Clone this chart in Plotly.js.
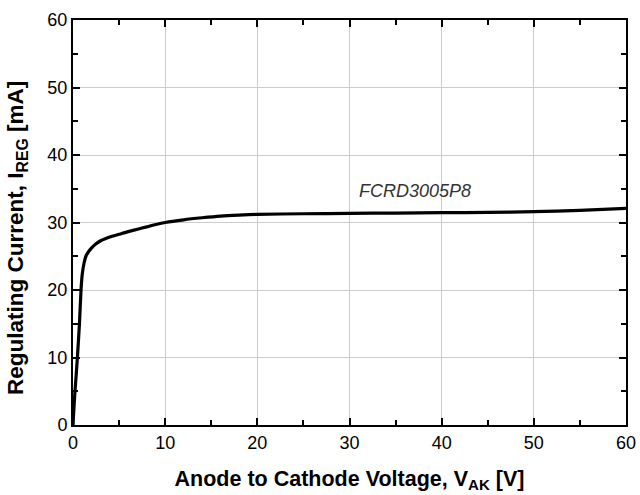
<!DOCTYPE html>
<html>
<head>
<meta charset="utf-8">
<script src="https://cdn.plot.ly/plotly-3.0.1.min.js"></script>
<style>html,body{margin:0;padding:0;background:#fff;}#chart{width:640px;height:495px;}</style>
</head>
<body>
<div id="chart"></div>
<script>
// Anode-to-cathode voltage [V]
var voltage = [0, 0.1, 0.2, 0.35, 0.5, 0.7, 0.87, 1.0, 1.2, 1.4, 1.7, 2.0, 2.5, 3, 3.5, 4, 5, 6, 7, 8, 9, 10, 12, 14, 16, 18, 20, 25, 30, 35, 40, 45, 50, 55, 60];
// Regulating current [mA]
var current = [0, 2.5, 4.7, 7.5, 10.5, 15, 20, 22.3, 24.0, 25.0, 25.7, 26.2, 26.85, 27.3, 27.6, 27.85, 28.25, 28.65, 29.0, 29.35, 29.7, 30.0, 30.4, 30.7, 30.95, 31.1, 31.2, 31.3, 31.35, 31.4, 31.45, 31.5, 31.6, 31.8, 32.1];
var xTicks = [0, 10, 20, 30, 40, 50, 60];
var yTicks = [0, 10, 20, 30, 40, 50, 60];
var seriesLabel = "FCRD3005P8";
var labelPos = {x: 30.8, y: 34.6};

var font = "Arial, 'Liberation Sans', Helvetica, sans-serif";

var axisCommon = {
  showline: true, linecolor: "#000", linewidth: 2, mirror: "ticks",
  ticks: "inside", ticklen: 7, tickwidth: 2, tickcolor: "#000",
  showgrid: true, gridcolor: "#cccccc", gridwidth: 1,
  zeroline: false,
  tickfont: {family: font, size: 18, color: "#000"},
  minor: {ticks: "inside", ticklen: 5, tickwidth: 2, tickcolor: "#000", dtick: 5, showgrid: false}
};

var layout = {
  width: 640, height: 495,
  margin: {l: 73, r: 14, t: 20, b: 70},
  paper_bgcolor: "#fff", plot_bgcolor: "#fff",
  showlegend: false,
  font: {family: font},
  xaxis: Object.assign({}, axisCommon, {
    range: [0, 60], tickvals: xTicks, ticktext: xTicks.map(String),
    title: {text: "<b>Anode to Cathode Voltage, V<sub>AK</sub> [V]</b>", font: {family: font, size: 21.5, color: "#000"}, standoff: 19}
  }),
  yaxis: Object.assign({}, axisCommon, {
    range: [0, 60], tickvals: yTicks, ticktext: yTicks.map(String)
  }),
  annotations: [{
    x: labelPos.x, y: labelPos.y, xref: "x", yref: "y", xanchor: "left", yanchor: "middle",
    text: "<i>" + seriesLabel + "</i>", showarrow: false,
    font: {family: font, size: 18, color: "#333"}
  }, {
    x: -0.1, y: 0.461, xref: "paper", yref: "paper", xanchor: "center", yanchor: "middle",
    textangle: -90, showarrow: false,
    text: "<b>Regulating Current, I<sub>REG</sub> [mA]</b>",
    font: {family: font, size: 22.5, color: "#000"}
  }]
};

Plotly.newPlot("chart", [{
  x: voltage, y: current, type: "scatter", mode: "lines",
  line: {color: "#000", width: 3.2, shape: "spline", smoothing: 0.6},
  hoverinfo: "skip"
}], layout, {staticPlot: true, displayModeBar: false});
</script>
</body>
</html>
